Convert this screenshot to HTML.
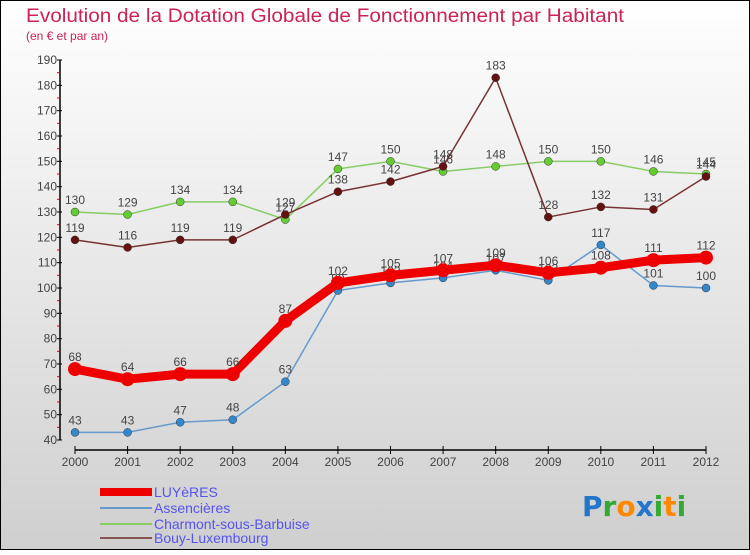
<!DOCTYPE html>
<html><head><meta charset="utf-8"><style>
html,body{margin:0;padding:0}
body{width:750px;height:550px;overflow:hidden;font-family:"Liberation Sans",sans-serif}
</style></head><body>
<svg width="750" height="550" xmlns="http://www.w3.org/2000/svg" id="svg">
<defs><linearGradient id="bg" x1="0" y1="0" x2="0" y2="1"><stop offset="0" stop-color="#ffffff"/><stop offset="1" stop-color="#cfcfcf"/></linearGradient></defs>
<rect x="0.5" y="0.5" width="749" height="549" fill="url(#bg)" stroke="#000" stroke-width="1"/>
<text x="26" y="22" font-size="19" fill="#cc2255" textLength="598" lengthAdjust="spacingAndGlyphs">Evolution de la Dotation Globale de Fonctionnement par Habitant</text>
<text x="26" y="40" font-size="12" fill="#cc2255">(en € et par an)</text>
<g id="axes"></g><g id="series"></g>
<g font-size="14" fill="#5555ee">
<rect x="100" y="488" width="52" height="8" fill="#ee0000"/>
<text x="154" y="497">LUYèRES</text>
<rect x="100" y="507" width="52" height="2" fill="#6699cc"/>
<text x="154" y="513">Assencières</text>
<rect x="100" y="523" width="52" height="2" fill="#88cc66"/>
<text x="154" y="529">Charmont-sous-Barbuise</text>
<rect x="100" y="537" width="52" height="2" fill="#885555"/>
<text x="154" y="543">Bouy-Luxembourg</text>
</g>
<g font-size="28" font-weight="bold" font-family="'DejaVu Sans',sans-serif">
<text x="582" y="516"><tspan fill="#2277cc">P</tspan><tspan fill="#33aa33">r</tspan><tspan fill="#ff8800">o</tspan><tspan fill="#2277cc">x</tspan><tspan fill="#33aa33">i</tspan><tspan fill="#ff8800">t</tspan><tspan fill="#33aa33">i</tspan></text>
</g>
</svg>
<script>
const years=[2000,2001,2002,2003,2004,2005,2006,2007,2008,2009,2010,2011,2012];
const luyeres=[68,64,66,66,87,102,105,107,109,106,108,111,112];
const assencieres=[43,43,47,48,63,99,102,104,107,103,117,101,100];
const charmont=[130,129,134,134,127,147,150,146,148,150,150,146,145];
const bouy=[119,116,119,119,129,138,142,148,183,128,132,131,144];
const yTicks=[40,50,60,70,80,90,100,110,120,130,140,150,160,170,180,190];
const NS="http://www.w3.org/2000/svg";
const X=i=>75+i*(706-75)/12;
const Y=v=>440-(v-40)*(380/150);
function mk(t,a,p){const e=document.createElementNS(NS,t);for(const k in a)e.setAttribute(k,a[k]);p.appendChild(e);return e;}
const ax=document.getElementById('axes');
let e=mk('line',{x1:60,y1:Y(190),x2:60,y2:Y(40),stroke:'#000','stroke-width':1.5},ax);

e=mk('line',{x1:X(0),y1:450,x2:X(12),y2:450,stroke:'#000','stroke-width':1.5},ax);

yTicks.forEach(v=>{
 const t=mk('line',{x1:57,y1:Y(v),x2:62,y2:Y(v),stroke:'#000'},ax);
 
 if(v<190){const m=mk('line',{x1:57,y1:Y(v+5),x2:59,y2:Y(v+5),stroke:'#ee0000'},ax);
 }
 const l=mk('text',{x:57,y:Y(v)+4,'font-size':12,'text-anchor':'end',fill:'#444'},ax);l.textContent=v;
 
});
years.forEach((y,i)=>{
 const t=mk('line',{x1:X(i),y1:446,x2:X(i),y2:454,stroke:'#000'},ax);
 
 const l=mk('text',{x:X(i),y:466,'font-size':12,'text-anchor':'middle',fill:'#444'},ax);l.textContent=y;
 
});
const sg=document.getElementById('series');
function draw(data,name,color,w,r,dot){
 const g=mk('g',{},sg);
 const p=mk('polyline',{points:data.map((v,i)=>X(i)+','+Y(v)).join(' '),fill:'none',stroke:color,'stroke-width':w,'stroke-linejoin':'round'},g);
 
 data.forEach((v,i)=>{
  const c=mk('circle',{cx:X(i),cy:Y(v),r:r,fill:dot,stroke:w>3?'none':'#333','stroke-width':0.5},g);
  
  const t=mk('text',{x:X(i),y:Y(v)-8,'font-size':12,'text-anchor':'middle',fill:'#444'},g);t.textContent=v;
  
 });
}
draw(assencieres,'assencieres','#6699cc',1.5,4,'#3388cc');
draw(charmont,'charmont','#88cc66',1.5,4,'#66cc33');
draw(bouy,'bouy','#773333',1.5,4,'#661111');
draw(luyeres,'luyeres','#ee0000',9,7,'#ee0000');
</script>
</body></html>
